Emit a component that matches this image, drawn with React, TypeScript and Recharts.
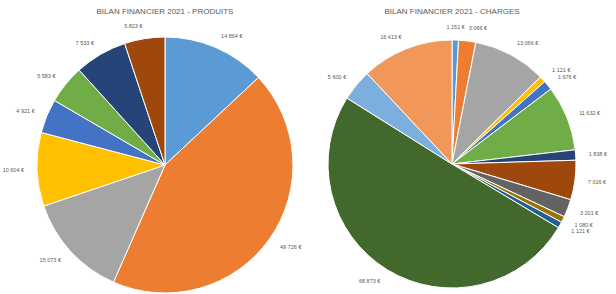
import { PieChart, Pie, Cell } from "recharts";

// produits 2021
const produitsLabels = ["Subventions", "Ventes", "Cotisations", "Dons", "Manifestations", "Partenariats", "Prestations", "Divers"];
const produitsValues = [14864, 49726, 15073, 10604, 4921, 5583, 7533, 5823];

// charges 2021
const chargesLabels = [
  "Assurances", "Fournitures", "Locations", "Poste", "Téléphone", "Déplacements", "Frais bancaires",
  "Honoraires", "Publicité", "Cadeaux", "Impôts", "Salaires", "Charges sociales", "Achats",
];
const chargesValues = [1151, 3066, 13066, 1121, 1676, 11632, 1838, 7016, 3201, 1080, 1121, 68873, 5600, 16413];

const officeColors = [
  "#5B9BD5", "#ED7D31", "#A5A5A5", "#FFC000", "#4472C4", "#70AD47", "#264478",
  "#9E480E", "#636363", "#997300", "#255E91", "#43682B", "#7CAFDD", "#F1975A",
];

const RAD = Math.PI / 180;

function euro(v: number) {
  return v.toString().replace(/\B(?=(\d{3})+(?!\d))/g, " ") + " €";
}

function renderLabel(props: any) {
  const { cx, cy, midAngle, outerRadius, value } = props;
  const r = outerRadius + 13;
  const x = cx + r * Math.cos(-midAngle * RAD);
  const y = cy + r * Math.sin(-midAngle * RAD);
  const anchor = x > cx + 5 ? "start" : x < cx - 5 ? "end" : "middle";
  return (
    <text
      x={x}
      y={y}
      fill="#595959"
      style={{ fill: "#595959", stroke: "none" }}
      fontFamily="'Liberation Sans', Arial, sans-serif"
      fontSize={5.5}
      textAnchor={anchor}
      dominantBaseline="central"
    >
      {euro(value)}
    </text>
  );
}

function BilanPie({ title, labels, values, cx, cy, radius }: { title: string; labels: string[]; values: number[]; cx: number; cy: number; radius: number }) {
  const data = labels.map((name, i) => ({ name, value: values[i] }));
  return (
    <div style={{ position: "relative", width: 308, height: 294 }}>
      <div
        style={{
          position: "absolute",
          top: 7,
          left: cx - 100,
          width: 200,
          textAlign: "center",
          fontFamily: "'Liberation Sans', Arial, sans-serif",
          fontSize: 8,
          color: "#595959",
        }}
      >
        {title}
      </div>
      <PieChart width={308} height={294} margin={{ top: 0, right: 0, bottom: 0, left: 0 }}>
        <Pie
          data={data}
          dataKey="value"
          nameKey="name"
          cx={cx}
          cy={cy}
          outerRadius={radius}
          startAngle={90}
          endAngle={-270}
          stroke="#fff"
          strokeWidth={1}
          label={renderLabel}
          labelLine={false}
          isAnimationActive={false}
        >
          {data.map((_, i) => (
            <Cell key={i} fill={officeColors[i % officeColors.length]} />
          ))}
        </Pie>
      </PieChart>
    </div>
  );
}

export default function App() {
  return (
    <div style={{ position: "absolute", top: 0, left: 0, width: 616, height: 294, display: "flex", background: "#fff" }}>
      <BilanPie title="BILAN FINANCIER 2021 - PRODUITS" labels={produitsLabels} values={produitsValues} cx={165} cy={165} radius={128} />
      <BilanPie title="BILAN FINANCIER 2021 - CHARGES" labels={chargesLabels} values={chargesValues} cx={144} cy={164} radius={124} />
    </div>
  );
}
